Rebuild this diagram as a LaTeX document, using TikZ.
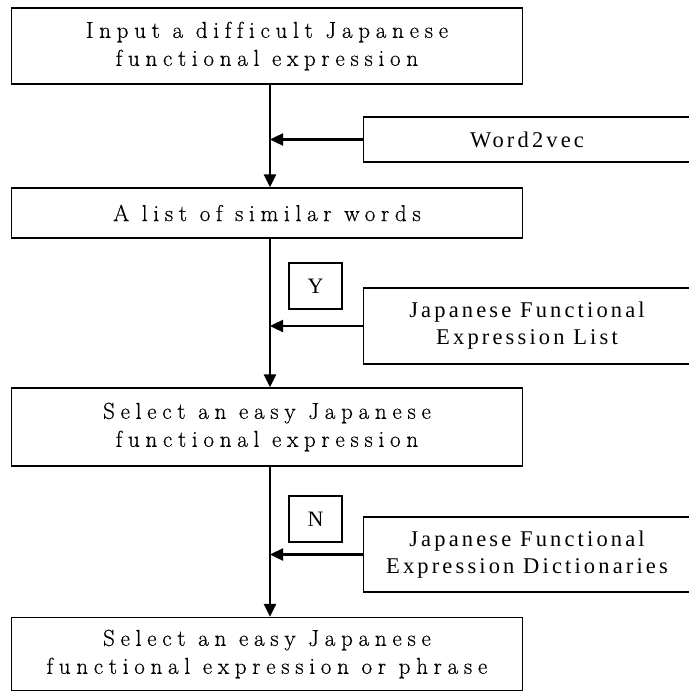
\documentclass[tikz,border=0pt]{standalone}
\usepackage{fontspec}
\setmainfont{Latin Modern Roman}[LetterSpace=25,Ligatures=NoCommon,FakeBold=0.6]
\newfontfamily\sidefont{Liberation Serif}[LetterSpace=14]
\newfontfamily\tagfont{Liberation Serif}
\usetikzlibrary{arrows.meta}
\begin{document}
\begin{tikzpicture}[x=1pt,y=-1pt,
  mainbox/.style={draw,line width=1.3pt,minimum width=511pt,align=center,inner sep=0pt,font=\fontsize{23}{28}\selectfont},
  sidebox/.style={draw,line width=1.3pt,minimum width=327pt,align=center,inner sep=0pt,font=\sidefont\fontsize{22.5}{27}\selectfont},
  tagbox/.style={draw,line width=1.3pt,minimum width=53pt,minimum height=46pt,inner sep=0pt,font=\tagfont\fontsize{22}{24}\selectfont},
  flow/.style={line width=2.4pt,-{Triangle[length=13pt,width=12pt]}}]
\useasboundingbox (0,0) rectangle (688,693);
\node[mainbox,minimum height=76pt] (b1) at (267,46) {Input a difficult Japanese\\functional expression};
\node[mainbox,minimum height=50pt] (b2) at (267,213) {A list of similar words};
\node[mainbox,minimum height=78pt] (b3) at (267,427) {Select an easy Japanese\\functional expression};
\node[mainbox,minimum height=73pt] (b4) at (267,654) {Select an easy Japanese\\functional expression or phrase};
\node[sidebox,minimum height=45pt] (w2v) at (527,139.5) {Word2vec};
\node[sidebox,minimum height=76pt] (jfel) at (527,326) {Japanese Functional\\Expression List};
\node[sidebox,minimum height=75pt] (jfed) at (527,554.5) {Japanese Functional\\Expression Dictionaries};
\node[tagbox] (y) at (315.5,286) {Y};
\node[tagbox] (n) at (315.5,519) {N};
\coordinate (lx) at (270,0);
\coordinate (j1) at (w2v.west -| lx);
\coordinate (j2) at (jfel.west -| lx);
\coordinate (j3) at (jfed.west -| lx);
\draw[line width=2.4pt] (b1.south -| j1) -- (j1);
\draw[flow] (j1) -- (b2.north -| j1);
\draw[flow] (w2v.west) -- (j1);
\draw[line width=2.4pt] (b2.south -| j2) -- (j2);
\draw[flow] (j2) -- (b3.north -| j2);
\draw[flow] (jfel.west) -- (j2);
\draw[line width=2.4pt] (b3.south -| j3) -- (j3);
\draw[flow] (j3) -- (b4.north -| j3);
\draw[flow] (jfed.west) -- (j3);
\end{tikzpicture}
\end{document}
